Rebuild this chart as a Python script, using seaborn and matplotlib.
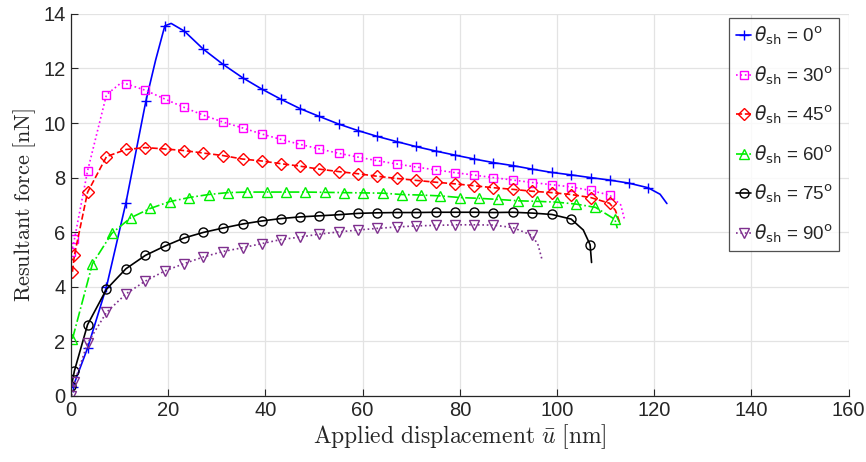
# Resultant force vs applied displacement for different shear angles
import numpy as np
import matplotlib
matplotlib.use("Agg")
import matplotlib.pyplot as plt
from matplotlib.font_manager import FontProperties
import seaborn as sns

# --- dados (pontos com marcador) ---
x0 = [0.4, 3.4, 7.3, 11.3, 15.4, 19.3, 23.3, 27.2, 31.2, 35.3, 39.2, 43.2, 47.1, 51.1,
      55.1, 59.1, 63.0, 67.0, 70.9, 75.1, 79.1, 83.0, 86.9, 90.9, 94.9, 98.9, 102.9,
      106.9, 110.8, 114.7, 118.7]
y0 = [0.33, 1.75, 4.0, 7.08, 10.8, 13.56, 13.37, 12.71, 12.16, 11.66, 11.25, 10.87, 10.53,
      10.24, 9.96, 9.72, 9.51, 9.32, 9.14, 8.97, 8.82, 8.68, 8.55, 8.44, 8.31, 8.19, 8.1,
      8.0, 7.91, 7.8, 7.63]
x30 = [0.1, 0.7, 3.4, 7.3, 11.3, 15.3, 19.3, 23.3, 27.2, 31.2, 35.3, 39.2, 43.2, 47.1,
       51.1, 55.1, 59.1, 63.0, 67.0, 70.9, 75.1, 79.1, 83.0, 86.9, 90.9, 94.9, 98.9,
       102.9, 106.9, 110.8]
y30 = [5.26, 5.74, 8.24, 11.04, 11.44, 11.2, 10.88, 10.57, 10.29, 10.04, 9.82, 9.6, 9.4,
       9.22, 9.05, 8.89, 8.75, 8.62, 8.5, 8.39, 8.28, 8.18, 8.09, 8.0, 7.91, 7.82, 7.74,
       7.66, 7.53, 7.36]
x45 = [0.3, 0.7, 3.4, 7.3, 11.3, 15.3, 19.3, 23.3, 27.2, 31.2, 35.3, 39.2, 43.2, 47.1,
       51.1, 55.1, 59.1, 63.0, 67.0, 70.9, 75.1, 79.1, 83.0, 86.9, 90.9, 94.9, 98.9,
       102.9, 106.9, 110.8]
y45 = [4.55, 5.16, 7.46, 8.77, 9.03, 9.1, 9.05, 8.99, 8.9, 8.81, 8.68, 8.61, 8.51, 8.42,
       8.31, 8.22, 8.14, 8.05, 7.97, 7.9, 7.83, 7.77, 7.7, 7.63, 7.57, 7.5, 7.45, 7.38,
       7.27, 7.06]
x60 = [0.3, 4.4, 8.4, 12.3, 16.3, 20.3, 24.3, 28.3, 32.2, 36.3, 40.3, 44.2, 48.2, 52.2,
       56.2, 60.1, 64.1, 68.1, 72.1, 76.0, 80.0, 84.0, 87.9, 92.0, 95.9, 99.9, 103.9,
       107.9, 111.9]
y60 = [2.09, 4.84, 5.96, 6.53, 6.87, 7.12, 7.27, 7.38, 7.45, 7.47, 7.47, 7.47, 7.47, 7.46,
       7.45, 7.44, 7.43, 7.38, 7.36, 7.33, 7.27, 7.24, 7.2, 7.15, 7.13, 7.1, 7.03, 6.91,
       6.47]
x75 = [0.1, 0.7, 3.4, 7.3, 11.3, 15.3, 19.3, 23.3, 27.2, 31.2, 35.3, 39.2, 43.2, 47.1,
       51.1, 55.1, 59.1, 63.0, 67.0, 70.9, 75.1, 79.1, 83.0, 86.9, 90.9, 94.9, 98.9,
       102.9, 106.8]
y75 = [0.37, 0.92, 2.61, 3.91, 4.66, 5.15, 5.49, 5.79, 5.99, 6.15, 6.3, 6.41, 6.5, 6.56,
       6.6, 6.64, 6.69, 6.71, 6.72, 6.72, 6.73, 6.73, 6.73, 6.72, 6.73, 6.7, 6.65, 6.48,
       5.54]
x90 = [0.1, 0.7, 3.4, 7.3, 11.3, 15.3, 19.3, 23.3, 27.2, 31.2, 35.3, 39.2, 43.2, 47.1,
       51.1, 55.1, 59.1, 63.0, 67.0, 70.9, 75.1, 79.1, 83.0, 86.9, 90.9, 94.9]
y90 = [0.01, 0.5, 1.93, 3.06, 3.74, 4.21, 4.58, 4.85, 5.09, 5.29, 5.43, 5.58, 5.73, 5.82,
       5.93, 6.01, 6.08, 6.14, 6.19, 6.23, 6.25, 6.27, 6.27, 6.26, 6.17, 5.88]

# pontos da curva sem marcador (picos e finais das curvas)
x0_extra, y0_extra = [17.4, 20.6, 121.2, 122.6], [12.3, 13.65, 7.39, 7.05]
x30_extra, y30_extra = [10.3, 113.1, 113.9], [11.47, 7.0, 6.45]
x45_extra, y45_extra = [112.0, 112.9], [6.8, 6.35]
x60_extra, y60_extra = [112.4], [6.14]
x75_extra, y75_extra = [105.4, 107.1], [6.08, 4.89]
x90_extra, y90_extra = [96.1, 96.9], [5.53, 5.0]

angulos = ["0", "30", "45", "60", "75", "90"]

series = [
    (x0, y0, x0_extra, y0_extra, "#0000ff", "-", "+"),
    (x30, y30, x30_extra, y30_extra, "#ff00ff", ":", "s"),
    (x45, y45, x45_extra, y45_extra, "#ff0000", "--", "D"),
    (x60, y60, x60_extra, y60_extra, "#00ee00", "-.", "^"),
    (x75, y75, x75_extra, y75_extra, "#000000", "-", "o"),
    (x90, y90, x90_extra, y90_extra, "#7e2f8e", ":", "v"),
]
tamanhos = {"+": 7.5, "s": 6.0, "D": 5.8, "^": 6.5, "o": 6.5, "v": 6.5}

sns.set_theme(style="ticks")
plt.rcParams["font.family"] = ["Liberation Sans", "DejaVu Sans"]

fig = plt.figure(figsize=(8.66, 4.62), dpi=100)
ax = fig.add_axes([0.082, 0.143, 0.898, 0.827])

for (xm, ym, xe, ye, cor, ls, mk), ang in zip(series, angulos):
    xs = np.array(xm + xe)
    ys = np.array(ym + ye)
    ordem = np.argsort(xs, kind="stable")
    xs, ys = xs[ordem], ys[ordem]
    is_marker = np.concatenate([np.ones(len(xm), bool), np.zeros(len(xe), bool)])[ordem]
    idx = list(np.where(is_marker)[0])
    sns.lineplot(x=xs, y=ys, ax=ax, color=cor, linestyle=ls, marker=mk,
                 markevery=idx, markersize=tamanhos[mk],
                 markerfacecolor="none", markeredgecolor=cor, markeredgewidth=1.0,
                 linewidth=1.2, sort=False, estimator=None,
                 label=r"$\theta_{\rm sh}$ = " + ang + r"$^{\rm o}$")

ax.set_xlim(0, 160)
ax.set_ylim(0, 14)
ax.set_xticks(np.arange(0, 161, 20))
ax.set_yticks(np.arange(0, 15, 2))
ax.grid(True, color="#e3e3e3", linewidth=0.9)
ax.set_axisbelow(True)
for s in ["top", "right"]:
    ax.spines[s].set_visible(False)
for s in ["left", "bottom"]:
    ax.spines[s].set_color("#262626")
    ax.spines[s].set_linewidth(0.9)
ax.tick_params(direction="in", length=5, width=0.8, color="#262626",
               labelsize=14.5, labelcolor="#262626", pad=4)

ax.set_xlabel(r"$\mathrm{Applied\ displacement}\ \bar{u}\ \mathrm{[nm]}$",
              fontsize=17, math_fontfamily="cm", color="#262626", labelpad=1)
ax.set_ylabel(r"$\mathrm{Resultant\ force\ [nN]}$",
              fontsize=16, math_fontfamily="cm", color="#262626", labelpad=4)

fp = FontProperties(family="Liberation Sans", size=13.5, math_fontfamily="dejavusans")
leg = ax.legend(loc="upper right", bbox_to_anchor=(0.988, 0.99), prop=fp,
                frameon=True, fancybox=False, edgecolor="#262626",
                handlelength=0.8, handletextpad=0.15, borderpad=0.35,
                labelspacing=0.9, borderaxespad=0.0)
leg.get_frame().set_linewidth(0.9)

fig.savefig("out.png", dpi=100)
